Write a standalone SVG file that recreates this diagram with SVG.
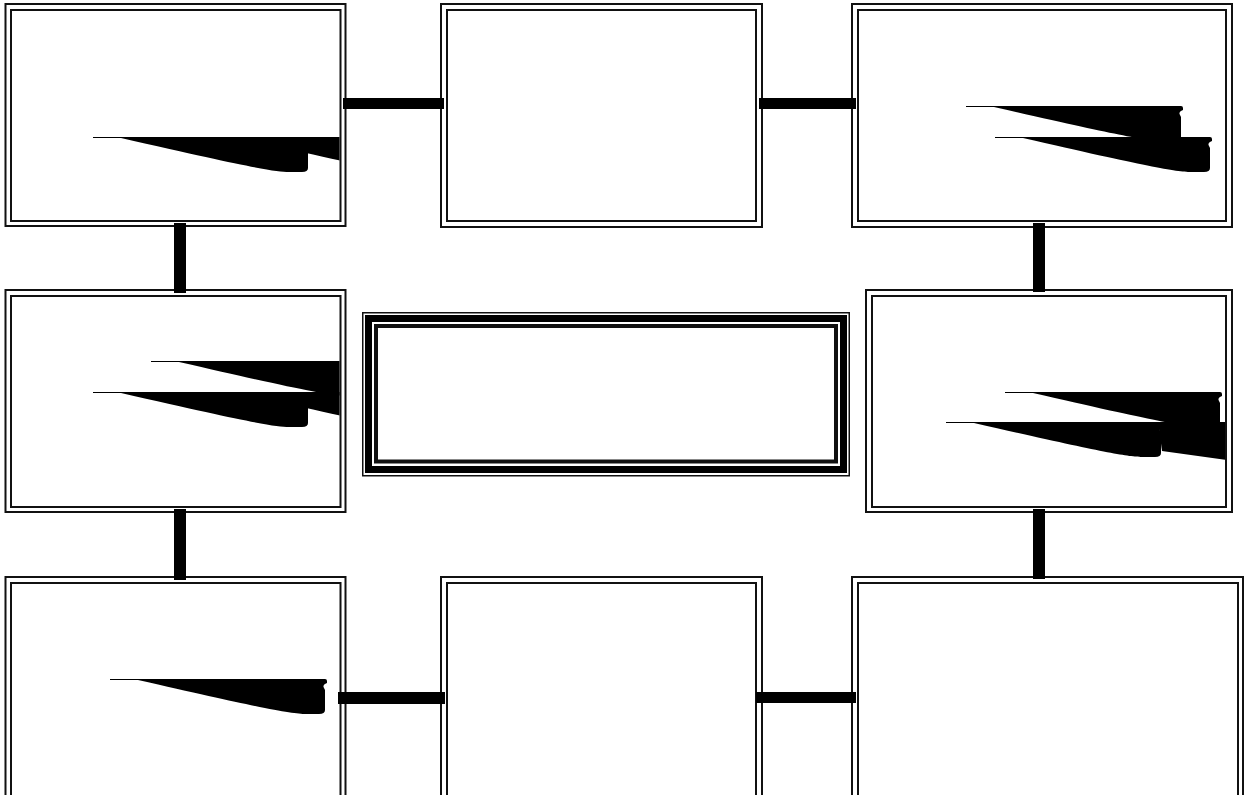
<svg xmlns="http://www.w3.org/2000/svg" width="1247" height="795" viewBox="0 0 1247 795">
<style>
.o{fill:#fff;stroke:#111;stroke-width:2}
.i{fill:none;stroke:#111;stroke-width:2}
.c{stroke:#000;stroke-width:11;fill:none}
.w{fill:#000}
</style>
<defs>
<path id="wedge" d="M0,0 H215 Q217,0 217,2 L217,4 Q212,6 214,9 L215,11 L215,31 Q215,35 209,35 L196,35 C182,35 150,29 28,1 L0,1 Z"/>
<clipPath id="clipTL"><rect x="12" y="11" width="327.5" height="209"/></clipPath>
<clipPath id="clipML"><rect x="12" y="297" width="327.5" height="209"/></clipPath>
<clipPath id="clipMR"><rect x="873" y="297" width="352" height="209"/></clipPath>
</defs>
<rect width="1247" height="795" fill="#fff"/>

<g id="node-tl">
<rect class="o" x="5.5" y="4" width="340" height="222"/>
<rect class="i" x="11" y="10" width="329.5" height="211"/>
<g clip-path="url(#clipTL)">
<use href="#wedge" class="w" x="93" y="137"/>
<use href="#wedge" class="w" x="212" y="137"/>
</g>
</g>

<g id="node-tm">
<rect class="o" x="441" y="4" width="321" height="223"/>
<rect class="i" x="447" y="10" width="309" height="211"/>
</g>

<g id="node-tr">
<rect class="o" x="852" y="4" width="380" height="223"/>
<rect class="i" x="858" y="10" width="368" height="211"/>
<use href="#wedge" class="w" x="966" y="106"/>
<use href="#wedge" class="w" x="995" y="137"/>
</g>

<g id="node-ml">
<rect class="o" x="5.5" y="290" width="340" height="222"/>
<rect class="i" x="11" y="296" width="329.5" height="211"/>
<g clip-path="url(#clipML)">
<use href="#wedge" class="w" x="151" y="361"/>
<use href="#wedge" class="w" x="93" y="392"/>
<use href="#wedge" class="w" x="212" y="392"/>
</g>
</g>

<g id="node-center">
<rect fill="#fff" stroke="#111" stroke-width="1.5" x="362.75" y="312.75" width="486.5" height="163"/>
<rect fill="none" stroke="#000" stroke-width="7" x="368.5" y="318.5" width="475" height="151"/>
<rect fill="none" stroke="#111" stroke-width="4" x="376" y="326" width="460" height="135.5"/>
</g>

<g id="node-mr">
<rect class="o" x="866" y="290" width="366" height="222"/>
<rect class="i" x="872" y="296" width="354" height="211"/>
<g clip-path="url(#clipMR)">
<path class="w" d="M1158,422 L1226,422 L1226,460 L1162,451 Z"/>
<use href="#wedge" class="w" x="1005" y="392"/>
<use href="#wedge" class="w" x="946" y="422"/>
</g>
</g>

<g id="node-bl">
<rect class="o" x="5.5" y="577" width="340" height="230"/>
<rect class="i" x="11" y="583" width="329.5" height="220"/>
<use href="#wedge" class="w" x="110" y="679"/>
</g>

<g id="node-bm">
<rect class="o" x="441" y="577" width="321" height="230"/>
<rect class="i" x="447" y="583" width="309" height="220"/>
</g>

<g id="node-br">
<rect class="o" x="852" y="577" width="391" height="230"/>
<rect class="i" x="858" y="583" width="380" height="220"/>
</g>

<g id="connectors">
<line class="c" x1="343" y1="103.5" x2="444" y2="103.5"/>
<line class="c" x1="759" y1="103.5" x2="856" y2="103.5"/>
<line class="c" x1="180" y1="223" x2="180" y2="293" style="stroke-width:12"/>
<line class="c" x1="180" y1="509" x2="180" y2="580" style="stroke-width:12"/>
<line class="c" x1="1039" y1="223" x2="1039" y2="292" style="stroke-width:12"/>
<line class="c" x1="1039" y1="509" x2="1039" y2="579" style="stroke-width:12"/>
<line class="c" x1="338" y1="698" x2="445" y2="698" style="stroke-width:12"/>
<line class="c" x1="756" y1="697.5" x2="856" y2="697.5"/>
</g>
</svg>
